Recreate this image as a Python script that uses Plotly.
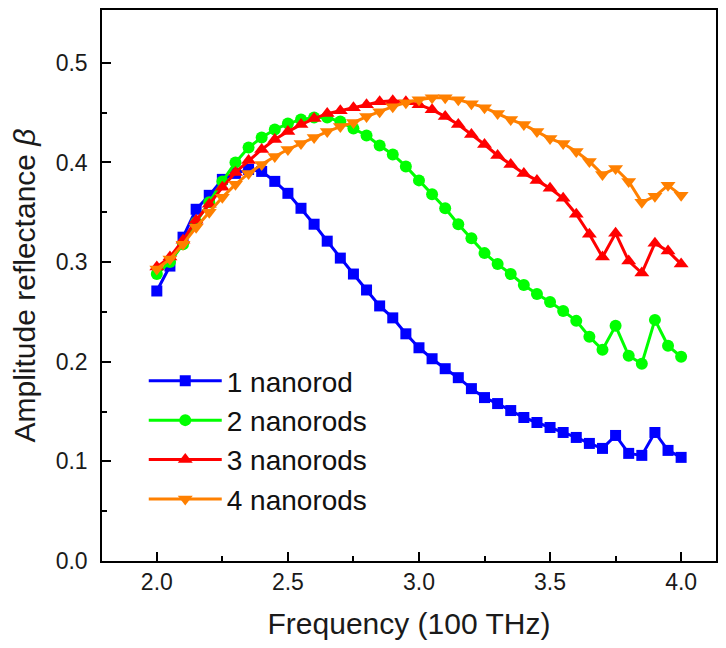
import plotly.graph_objects as go

freq = [round(2.0 + 0.05 * i, 2) for i in range(41)]

one_nanorod = [0.271, 0.296, 0.325, 0.353, 0.367, 0.383, 0.389, 0.393, 0.391, 0.381,
               0.369, 0.354, 0.338, 0.321, 0.304, 0.288, 0.272, 0.256, 0.244, 0.228,
               0.214, 0.203, 0.193, 0.184, 0.173, 0.164, 0.158, 0.151, 0.144, 0.139,
               0.134, 0.129, 0.124, 0.118, 0.113, 0.126, 0.108, 0.106, 0.129, 0.111,
               0.104]
two_nanorods = [0.288, 0.300, 0.318, 0.340, 0.360, 0.381, 0.400, 0.415, 0.425, 0.433,
                0.439, 0.443, 0.445, 0.445, 0.441, 0.434, 0.427, 0.417, 0.408, 0.396,
                0.382, 0.368, 0.354, 0.338, 0.324, 0.309, 0.298, 0.288, 0.277, 0.268,
                0.260, 0.251, 0.241, 0.225, 0.212, 0.236, 0.206, 0.198, 0.242, 0.216,
                0.205]
three_nanorods = [0.295, 0.305, 0.322, 0.342, 0.358, 0.375, 0.390, 0.402, 0.413, 0.423,
                  0.431, 0.438, 0.444, 0.449, 0.452, 0.455, 0.458, 0.461, 0.462, 0.461,
                  0.458, 0.453, 0.446, 0.438, 0.428, 0.418, 0.407, 0.398, 0.389, 0.382,
                  0.374, 0.364, 0.348, 0.328, 0.305, 0.329, 0.301, 0.289, 0.319, 0.311,
                  0.298]
four_nanorods = [0.293, 0.303, 0.318, 0.335, 0.350, 0.365, 0.378, 0.389, 0.398, 0.406,
                 0.413, 0.419, 0.425, 0.431, 0.436, 0.440, 0.446, 0.451, 0.456, 0.460,
                 0.463, 0.465, 0.465, 0.463, 0.459, 0.455, 0.449, 0.443, 0.438, 0.431,
                 0.424, 0.419, 0.411, 0.401, 0.388, 0.394, 0.381, 0.360, 0.366, 0.377,
                 0.367]

x_ticks = [2.0, 2.5, 3.0, 3.5, 4.0]
x_ticklabels = ["2.0", "2.5", "3.0", "3.5", "4.0"]
y_ticks = [0.0, 0.1, 0.2, 0.3, 0.4, 0.5]
y_ticklabels = ["0.0", "0.1", "0.2", "0.3", "0.4", "0.5"]

series = [
    ("1 nanorod", one_nanorod, "#0000FF", "square", 11),
    ("2 nanorods", two_nanorods, "#00FF00", "circle", 12),
    ("3 nanorods", three_nanorods, "#FF0000", "triangle-up", 13),
    ("4 nanorods", four_nanorods, "#FF8000", "triangle-down", 13),
]

fig = go.Figure()
for name, vals, color, sym, size in series:
    fig.add_trace(go.Scatter(
        x=freq, y=vals, name=name, mode="lines+markers",
        line=dict(color=color, width=3),
        marker=dict(symbol=sym, size=size, color=color, line=dict(width=0)),
    ))

font_family = "Arial, Liberation Sans, sans-serif"
fig.update_layout(
    width=710, height=632,
    margin=dict(l=94, r=0, t=1, b=79),
    paper_bgcolor="white", plot_bgcolor="white",
    font=dict(family=font_family, size=23, color="#1a1a1a"),
    showlegend=True,
    legend=dict(
        x=0.068, y=0.372, xanchor="left", yanchor="top",
        bgcolor="rgba(0,0,0,0)", borderwidth=0,
        font=dict(size=28, color="#111111"),
        tracegroupgap=0, itemwidth=73,
    ),
    xaxis=dict(
        range=[1.7909, 4.133],
        tickvals=x_ticks, ticktext=x_ticklabels,
        ticks="inside", ticklen=9, tickwidth=1.5, tickcolor="black",
        minor=dict(ticks="inside", ticklen=5, tickwidth=1.5, tickcolor="black",
                   tickvals=[2.25, 2.75, 3.25, 3.75], showgrid=False),
        showline=True, linecolor="black", linewidth=1.5, mirror=True,
        showgrid=False, zeroline=False,
        title=dict(text="Frequency (100 THz)", font=dict(size=30), standoff=23),
        tickfont=dict(size=23),
    ),
    yaxis=dict(
        range=[0, 0.553],
        tickvals=y_ticks, ticktext=y_ticklabels,
        ticks="inside", ticklen=9, tickwidth=1.5, tickcolor="black",
        minor=dict(ticks="inside", ticklen=5, tickwidth=1.5, tickcolor="black",
                   tickvals=[0.05, 0.15, 0.25, 0.35, 0.45], showgrid=False),
        showline=True, linecolor="black", linewidth=1.5, mirror=True,
        showgrid=False, zeroline=False,
        ticklabelstandoff=8,
        title=dict(text="Amplitude reflectance <i>β</i>", font=dict(size=30), standoff=11),
        tickfont=dict(size=23),
    ),
)

fig.write_html("out.html")
